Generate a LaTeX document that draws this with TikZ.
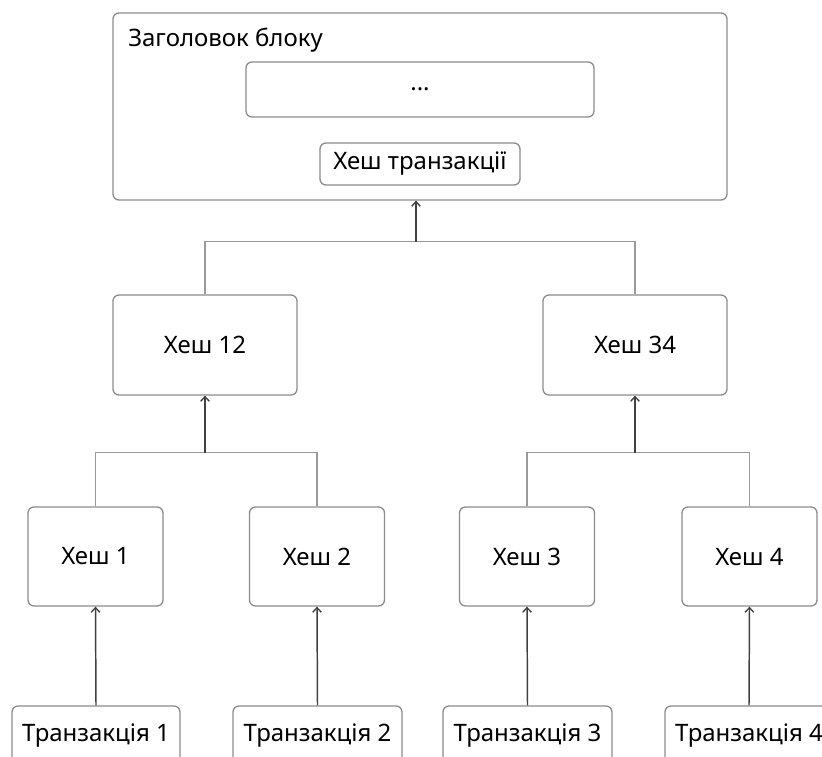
\documentclass[tikz,border=0pt]{standalone}
\usepackage{fontspec}
\setmainfont{Noto Sans}
\usetikzlibrary{arrows.meta}
\definecolor{boxgray}{HTML}{8C8C8C}
\definecolor{linegray}{HTML}{9A9A9A}
\definecolor{arrowgray}{HTML}{404040}
\tikzset{
  txt/.style={font=\fontsize{18}{21}\selectfont, text=black},
  box/.style={draw=boxgray, line width=1pt, rounded corners=4.5pt, fill=white, inner sep=0pt, txt},
  link/.style={draw=linegray, line width=0.9pt},
  uparrow/.style={draw=arrowgray, line width=1.1pt, -{Straight Barb[length=3.5pt, width=6.5pt, line width=1pt]}}
}
\begin{document}
\begin{tikzpicture}[x=0.75pt, y=-0.75pt]
\useasboundingbox (0,0) rectangle (822,757);
\clip (0,0) rectangle (822,757);
% header block
\node[box, minimum width=614*0.75pt, minimum height=187*0.75pt] (hdr) at (420,106.5) {};
\node[anchor=base west, inner sep=0pt, txt] (title) at (128,46) {Заголовок блоку};
\node[box, minimum width=348*0.75pt, minimum height=55*0.75pt] (dots) at (420,89.5) {...};
\node[box, minimum width=200*0.75pt, minimum height=42*0.75pt] (root) at (420,164) {Хеш транзакції};
% level 1
\node[box, minimum width=184*0.75pt, minimum height=100*0.75pt] (h12) at (205,345) {Хеш 12};
\node[box, minimum width=184*0.75pt, minimum height=100*0.75pt] (h34) at (635,345) {Хеш 34};
% level 2
\node[box, minimum width=135*0.75pt, minimum height=99*0.75pt] (h1) at (95.5,556.5) {Хеш 1};
\node[box, minimum width=135*0.75pt, minimum height=99*0.75pt] (h2) at (317,556.5) {Хеш 2};
\node[box, minimum width=135*0.75pt, minimum height=99*0.75pt] (h3) at (527,556.5) {Хеш 3};
\node[box, minimum width=135*0.75pt, minimum height=99*0.75pt] (h4) at (749.5,556.5) {Хеш 4};
% transactions
\node[box, minimum width=168*0.75pt, minimum height=60*0.75pt] (t1) at (96,736) {Транзакція 1};
\node[box, minimum width=169*0.75pt, minimum height=60*0.75pt] (t2) at (317.5,736) {Транзакція 2};
\node[box, minimum width=169*0.75pt, minimum height=60*0.75pt] (t3) at (527.5,736) {Транзакція 3};
\node[box, minimum width=168*0.75pt, minimum height=60*0.75pt] (t4) at (749,736) {Транзакція 4};
% junctions
\coordinate (jtop) at (416,241.5);
\coordinate (j12) at (205,452.5);
\coordinate (j34) at (635,452.5);
% tree links
\draw[link] (h12.north) |- (jtop) -| (h34.north);
\draw[link] (h1.north) |- (j12) -| (h2.north);
\draw[link] (h3.north) |- (j34) -| (h4.north);
% arrows
\draw[uparrow] (jtop) -- (jtop |- hdr.south);
\draw[uparrow] (j12) -- (h12.south);
\draw[uparrow] (j34) -- (h34.south);
\draw[uparrow] (t1.north) -- (h1.south);
\draw[uparrow] (t2.north) -- (h2.south);
\draw[uparrow] (t3.north) -- (h3.south);
\draw[uparrow] (t4.north) -- (h4.south);
\end{tikzpicture}
\end{document}
